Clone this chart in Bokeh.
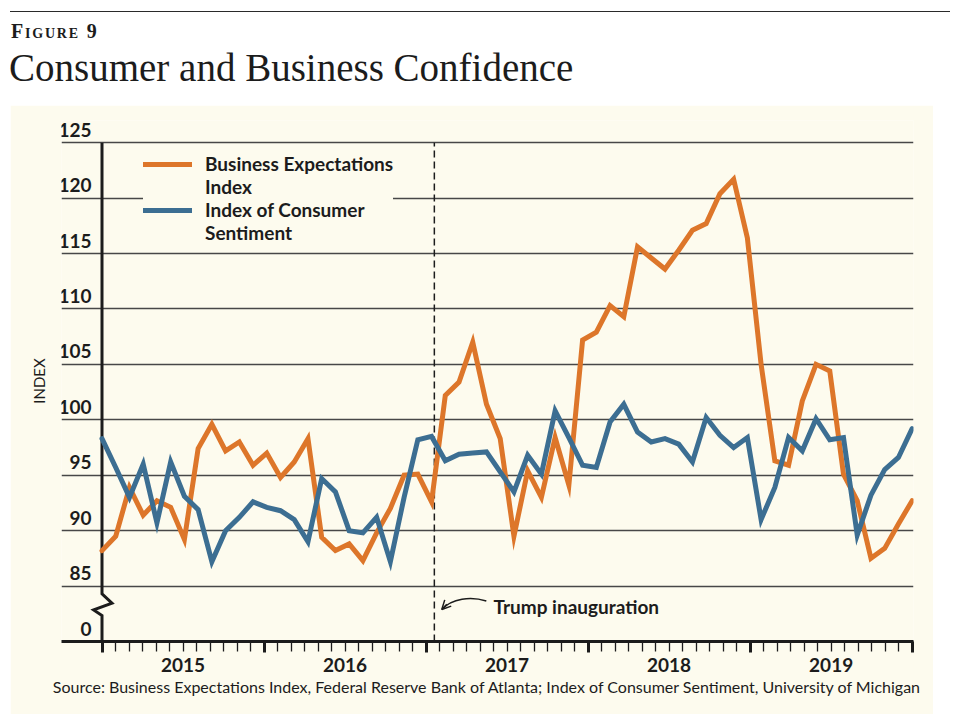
import numpy as np
from bokeh.plotting import figure
from bokeh.models import (Range1d, FixedTicker, LinearAxis, Title, Legend, LegendItem,
                          Div, Arrow, OpenHead)
from bokeh.layouts import column
from bokeh.core.properties import value
from bokeh.embed import file_html
from bokeh.resources import INLINE

# ---------------- data (monthly, Jan 2015 - Dec 2019) ----------------
business_expectations = [
    88.2, 89.5, 93.9, 91.4, 92.7, 92.1, 89.2, 97.4, 99.6, 97.2, 98.0, 95.9,   # 2015
    97.0, 94.8, 96.2, 98.3, 89.4, 88.2, 88.8, 87.3, 89.8, 92.0, 95.0, 95.1,   # 2016
    92.6, 102.2, 103.4, 107.0, 101.4, 98.3, 89.5, 95.4, 93.0, 98.4, 94.1, 107.2,  # 2017
    107.9, 110.3, 109.3, 115.6, 114.6, 113.6, 115.3, 117.1, 117.7, 120.4, 121.7, 116.4,  # 2018
    105.0, 96.3, 95.9, 101.7, 105.0, 104.4, 95.1, 92.7, 87.5, 88.4, 90.6, 92.7,  # 2019
]
consumer_sentiment = [
    98.3, 95.7, 93.0, 96.0, 90.7, 96.2, 93.1, 91.9, 87.2, 90.0, 91.2, 92.6,   # 2015
    92.1, 91.8, 91.0, 89.0, 94.7, 93.5, 90.0, 89.8, 91.2, 87.2, 93.0, 98.2,   # 2016
    98.5, 96.3, 96.9, 97.0, 97.1, 95.3, 93.5, 96.8, 95.1, 100.8, 98.4, 95.9,  # 2017
    95.7, 99.8, 101.4, 98.9, 98.0, 98.3, 97.8, 96.2, 100.2, 98.6, 97.5, 98.4,  # 2018
    91.0, 93.9, 98.4, 97.2, 100.1, 98.2, 98.4, 89.6, 93.2, 95.5, 96.6, 99.2,  # 2019
]
legend_lines = [["Business Expectations", "Index"], ["Index of Consumer", "Sentiment"]]
year_labels = ["2015", "2016", "2017", "2018", "2019"]
y_tick_values = [80, 85, 90, 95, 100, 105, 110, 115, 120, 125]
y_tick_labels = ["0", "85", "90", "95", "100", "105", "110", "115", "120", "125"]
inauguration_label = "Trump inauguration"
source_text = ("Source: Business Expectations Index, Federal Reserve Bank of Atlanta; "
               "Index of Consumer Sentiment, University of Michigan")

# ---------------- styling ----------------
CREAM = "#FDFBEE"
ORANGE = "#DD762A"
BLUE = "#3C6E92"
INK = "#1c1c1c"
GRID = "#474747"
SANS = "Lato"
SERIF = "Liberation Serif"

n_months_axis = 60                      # month ticks Jan 2015 .. Jan 2020
x = np.linspace(0, n_months_axis, len(business_expectations))
inauguration_x = 24 + 19 / 31           # Jan 20, 2017 in months from Jan 2015

# ---------------- header ----------------
header_html = f"""
<div style="position:relative;width:965px;height:105px;background:#ffffff;overflow:hidden;">
  <div style="position:absolute;left:10px;top:11px;width:940px;height:0;border-top:1.5px solid #2a2a2a;"></div>
  <div style="position:absolute;left:11px;top:21px;font-family:'{SERIF}',serif;font-weight:bold;
       font-variant:small-caps;font-size:20px;line-height:1;color:{INK};letter-spacing:1.8px;">Figure 9</div>
  <div style="position:absolute;left:9px;top:48px;font-family:'{SERIF}',serif;font-size:39px;
       line-height:1;color:{INK};white-space:nowrap;">Consumer and Business Confidence</div>
</div>
"""
header = Div(text=header_html, width=965, height=105, margin=(0, 0, 0, 0))

# ---------------- figure ----------------
p = figure(width=923, height=609, x_range=Range1d(-3.0, 60.1), y_range=Range1d(80, 127),
           output_backend="svg", toolbar_location=None,
           min_border_left=51, min_border_right=20, min_border_top=15, min_border_bottom=73,
           background_fill_color=CREAM, border_fill_color=CREAM, outline_line_color=None,
           margin=(0, 0, 0, 10))

# grid
p.xgrid.visible = False
p.ygrid.ticker = FixedTicker(ticks=y_tick_values)
p.ygrid.grid_line_color = GRID
p.ygrid.grid_line_width = 1.4

# left axis: only the "INDEX" title
p.yaxis.ticker = FixedTicker(ticks=[])
p.yaxis.axis_line_color = None
p.yaxis.major_tick_line_color = None
p.yaxis.minor_tick_line_color = None
p.yaxis.major_label_text_color = None
p.yaxis.axis_label = "INDEX"
p.yaxis.axis_label_standoff = 14
p.yaxis.axis_label_text_font = SANS
p.yaxis.axis_label_text_font_size = "15px"
p.yaxis.axis_label_text_font_style = "normal"
p.yaxis.axis_label_text_color = INK

# bottom axis: month ticks, heavy year boundaries (no labels drawn)
p.xaxis.ticker = FixedTicker(ticks=list(range(0, n_months_axis + 1, 12)),
                             minor_ticks=list(range(0, n_months_axis + 1)))
p.xaxis.axis_line_width = 3
p.xaxis.axis_line_color = INK
p.xaxis.major_tick_line_width = 3
p.xaxis.major_tick_line_color = INK
p.xaxis.major_tick_out = 11
p.xaxis.major_tick_in = 0
p.xaxis.minor_tick_line_width = 1.3
p.xaxis.minor_tick_line_color = INK
p.xaxis.minor_tick_out = 10
p.xaxis.minor_tick_in = 0
p.xaxis.major_label_text_font_size = "1px"
p.xaxis.major_label_text_color = None
p.xaxis.major_label_standoff = 0

# year labels axis
year_ticks = [6 + 12 * i for i in range(len(year_labels))]
year_axis = LinearAxis(ticker=FixedTicker(ticks=year_ticks),
                       major_label_overrides={t: lab for t, lab in zip(year_ticks, year_labels)},
                       axis_line_color=None, major_tick_line_color=None, minor_tick_line_color=None,
                       major_tick_out=0, major_tick_in=0, major_label_standoff=5,
                       major_label_text_font=SANS, major_label_text_font_size="19px",
                       major_label_text_font_style="bold", major_label_text_color=INK)
p.add_layout(year_axis, "below")

# source line
p.add_layout(Title(text=source_text, align="center", text_font=SANS, text_font_size="16px",
                   text_font_style="normal", text_color=INK, standoff=0), "below")

# y tick labels sitting above their grid lines
p.text(x=[0] * len(y_tick_values), y=y_tick_values, text=y_tick_labels,
       x_offset=-10.5, y_offset=-6, text_align="right", text_baseline="bottom",
       text_font=value(SANS), text_font_size="19px", text_font_style="bold", text_color=INK)

# vertical axis line with break symbol
axis_x = [0, 0, 0.74, -0.62, 0, 0]
axis_y = [125, 84.3, 83.45, 82.85, 82.35, 80]
p.line(axis_x, axis_y, line_width=3, line_color=INK, line_join="miter")

# inauguration marker
p.segment(x0=[inauguration_x], y0=[80], x1=[inauguration_x], y1=[125],
          line_dash="7 4", line_width=1.5, line_color=INK)
p.bezier(x0=[inauguration_x + 3.85], y0=[83.66], x1=[inauguration_x + 0.55], y1=[82.89],
         cx0=[inauguration_x + 2.7], cy0=[84.1], cx1=[inauguration_x + 1.3], cy1=[83.9],
         line_width=1.5, line_color=INK)
p.add_layout(Arrow(end=OpenHead(size=9, line_width=1.5, line_color=INK),
                   x_start=inauguration_x + 0.92, y_start=83.36,
                   x_end=inauguration_x + 0.55, y_end=82.89,
                   line_width=1.5, line_color=INK))
p.text(x=[inauguration_x + 4.38], y=[83.16], text=[inauguration_label],
       text_align="left", text_baseline="middle", text_font=value(SANS),
       text_font_size="19px", text_font_style="bold", text_color=INK)

# series
r_bei = p.line(x, business_expectations, line_width=5, line_color=ORANGE,
               line_join="miter", line_cap="round")
r_ics = p.line(x, consumer_sentiment, line_width=5, line_color=BLUE,
               line_join="miter", line_cap="round")
# invisible renderers that carry the second line of each legend label
r_blank1 = p.line(x=[], y=[], line_alpha=0)
r_blank2 = p.line(x=[], y=[], line_alpha=0)

legend = Legend(items=[LegendItem(label=legend_lines[0][0], renderers=[r_bei]),
                       LegendItem(label=legend_lines[0][1], renderers=[r_blank1]),
                       LegendItem(label=legend_lines[1][0], renderers=[r_ics]),
                       LegendItem(label=legend_lines[1][1], renderers=[r_blank2])],
                location=(82, 397), orientation="vertical",
                background_fill_color=CREAM, background_fill_alpha=1.0,
                border_line_color=None, padding=10, margin=0, spacing=0,
                glyph_width=49, glyph_height=18, label_standoff=13, label_height=18,
                label_text_font=SANS, label_text_font_size="19px",
                label_text_font_style="bold", label_text_color=INK)
p.add_layout(legend)

layout = column(header, p, margin=(0, 0, 0, 0), spacing=0)
html = file_html(layout, INLINE)
html = html.replace("<head>", "<head><style>html,body{margin:0;padding:0;background:#ffffff;}</style>", 1)
open("out.html", "w").write(html)
